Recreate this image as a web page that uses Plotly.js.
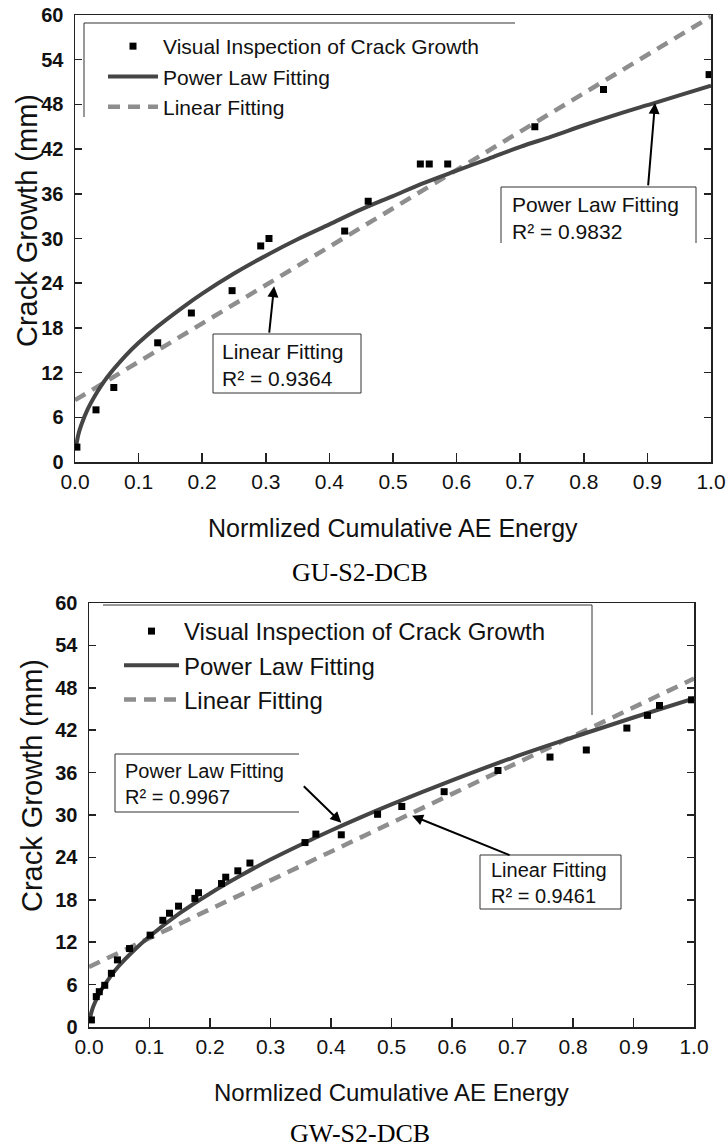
<!DOCTYPE html>
<html><head><meta charset="utf-8">
<script src="https://cdn.plot.ly/plotly-3.0.1.min.js"></script>
<style>html,body{margin:0;padding:0;background:#fff}</style>
</head><body>
<div id="chart" style="width:728px;height:1148px"></div>
<script>
// ---------- DATA ----------
// GU-S2-DCB
const guInspX = [0.003, 0.033, 0.061, 0.130, 0.183, 0.247, 0.292, 0.305, 0.424, 0.461, 0.543, 0.557, 0.586, 0.723, 0.831, 0.997];
const guInspY = [2.0, 7.0, 10.0, 16.0, 20.0, 23.0, 29.0, 30.0, 31.0, 35.0, 40.0, 40.0, 40.0, 45.0, 50.0, 52.0];
const guPowX = [0.001, 0.005, 0.01, 0.02, 0.03, 0.05, 0.08, 0.1, 0.13, 0.17, 0.2, 0.25, 0.3, 0.35, 0.4, 0.45, 0.5, 0.55, 0.6, 0.65, 0.7, 0.75, 0.8, 0.85, 0.9, 0.95, 1.0];
const guPowY = [1.6, 3.6, 5.0, 7.1, 8.7, 11.3, 14.3, 16.0, 18.2, 20.8, 22.6, 25.3, 27.7, 29.9, 31.9, 33.9, 35.7, 37.5, 39.1, 40.7, 42.3, 43.7, 45.2, 46.6, 47.9, 49.2, 50.5];
const guLinX = [0, 1];
const guLinY = [8.3, 59.8];

// GW-S2-DCB
const gwInspX = [0.004, 0.012, 0.017, 0.026, 0.037, 0.047, 0.067, 0.101, 0.122, 0.133, 0.148, 0.175, 0.181, 0.219, 0.226, 0.246, 0.266, 0.357, 0.375, 0.417, 0.477, 0.517, 0.587, 0.676, 0.762, 0.822, 0.889, 0.923, 0.943, 0.996];
const gwInspY = [1.0, 4.3, 5.0, 5.9, 7.6, 9.5, 11.1, 13.0, 15.1, 16.1, 17.1, 18.2, 19.0, 20.3, 21.2, 22.1, 23.2, 26.1, 27.3, 27.2, 30.1, 31.2, 33.3, 36.3, 38.2, 39.2, 42.3, 44.1, 45.5, 46.3];
const gwPowX = [0.001, 0.005, 0.01, 0.02, 0.03, 0.05, 0.075, 0.1, 0.15, 0.2, 0.25, 0.3, 0.35, 0.4, 0.45, 0.5, 0.6, 0.7, 0.8, 0.9, 1.0];
const gwPowY = [1.0, 2.4, 3.5, 5.2, 6.5, 8.7, 10.9, 12.8, 16.1, 18.9, 21.4, 23.7, 25.8, 27.8, 29.7, 31.5, 34.9, 38.1, 41.0, 43.8, 46.5];
const gwLinX = [0, 1];
const gwLinY = [8.5, 49.3];

// text
const seriesNames = ['Visual Inspection of Crack Growth', 'Power Law Fitting', 'Linear Fitting'];
const xTitle = 'Normlized Cumulative AE Energy';
const yTitle = 'Crack Growth (mm)';
const captions = ['GU-S2-DCB', 'GW-S2-DCB'];
const fitLabels = [
  'Power Law Fitting<br>R² = 0.9832', 'Linear Fitting<br>R² = 0.9364',
  'Power Law Fitting<br>R² = 0.9967', 'Linear Fitting<br>R² = 0.9461'
];

// ---------- LAYOUT HELPERS ----------
const W = 728, H = 1148;
const px = v => v / W;
const py = v => 1 - v / H;
const SANS = 'Liberation Sans, Arial, Helvetica, sans-serif';
const SERIF = 'Liberation Serif, Times New Roman, serif';
const POW_COLOR = '#454545';
const LIN_COLOR = '#8e8e8e';

function traces(ix, iy, pxs, pys, lx, ly, xa, ya, leg) {
  return [
    {x: lx, y: ly, xaxis: xa, yaxis: ya, type: 'scatter', mode: 'lines', name: seriesNames[2],
     legend: leg, legendrank: 3, line: {color: LIN_COLOR, width: 4.5, dash: '12px,8px'}},
    {x: pxs, y: pys, xaxis: xa, yaxis: ya, type: 'scatter', mode: 'lines', name: seriesNames[1],
     legend: leg, legendrank: 2, line: {color: POW_COLOR, width: 4, shape: 'spline'}},
    {x: ix, y: iy, xaxis: xa, yaxis: ya, type: 'scatter', mode: 'markers', name: seriesNames[0],
     legend: leg, legendrank: 1, marker: {symbol: 'square', size: 7, color: '#000'}, cliponaxis: true}
  ];
}

const data = [
  ...traces(guInspX, guInspY, guPowX, guPowY, guLinX, guLinY, 'x', 'y', 'legend'),
  ...traces(gwInspX, gwInspY, gwPowX, gwPowY, gwLinX, gwLinY, 'x2', 'y2', 'legend2')
];

function xAxis(domain, anchor) {
  return {
    domain: domain, anchor: anchor, range: [0, 1], dtick: 0.1, tick0: 0, tickformat: '.1f',
    ticks: 'inside', ticklen: 9, tickwidth: 1.5, tickcolor: '#222',
    showline: true, linewidth: 1.5, linecolor: '#222', mirror: true,
    showgrid: false, zeroline: false, fixedrange: true,
    tickfont: {family: SANS, size: 21, color: '#111'}
  };
}
function yAxis(domain, anchor) {
  return {
    domain: domain, anchor: anchor, range: [0, 60], dtick: 6, tick0: 0,
    ticks: 'inside', ticklen: 7, tickwidth: 1.5, tickcolor: '#222',
    showline: true, linewidth: 1.5, linecolor: '#222', mirror: 'ticks',
    showgrid: false, zeroline: false, fixedrange: true, ticklabelstandoff: 6,
    tickfont: {family: SANS, size: 20, color: '#111', weight: 'bold'}
  };
}

function line(x0, y0, x1, y1) {
  return {type: 'line', xref: 'paper', yref: 'paper', x0: px(x0), y0: py(y0), x1: px(x1), y1: py(y1),
          line: {color: '#333', width: 1}};
}
function txt(text, x, y, size, opts) {
  return Object.assign({text: text, xref: 'paper', yref: 'paper', x: px(x), y: py(y), showarrow: false,
    xanchor: 'left', yanchor: 'middle', align: 'left', font: {family: SANS, size: size, color: '#111'}}, opts || {});
}
function arrow(xr, yr, x, y, ax, ay) {
  return {text: '', xref: xr, yref: yr, x: x, y: y, ax: ax, ay: ay, showarrow: true,
          arrowhead: 2, arrowsize: 1.1, arrowwidth: 2, arrowcolor: '#000', standoff: 0};
}

const layout = {
  width: W, height: H, margin: {l: 0, r: 0, t: 0, b: 0},
  paper_bgcolor: '#fff', plot_bgcolor: '#fff', showlegend: true,
  xaxis: xAxis([px(75), px(711)], 'y'),
  yaxis: yAxis([py(462), py(15)], 'x'),
  xaxis2: xAxis([px(89), px(694)], 'y2'),
  yaxis2: yAxis([py(1027), py(603)], 'x2'),
  legend: {x: px(103), y: py(26), xanchor: 'left', yanchor: 'top', bgcolor: 'rgba(0,0,0,0)',
           borderwidth: 0, itemwidth: 50, font: {family: SANS, size: 21, color: '#111'}, tracegroupgap: 0},
  legend2: {x: px(119), y: py(609), xanchor: 'left', yanchor: 'top', bgcolor: 'rgba(0,0,0,0)',
            borderwidth: 0, itemwidth: 55, font: {family: SANS, size: 24, color: '#111'}, tracegroupgap: 0},
  shapes: [
    // top legend partial frame
    line(84, 23, 515, 23), line(84, 23, 84, 117),
    // bottom legend partial frame
    line(103, 605, 592, 605), line(592, 605, 592, 715),
    // top power-law box (open bottom)
    {type: 'path', xref: 'paper', yref: 'paper',
     path: `M${px(501)},${py(243)} L${px(501)},${py(187)} L${px(696)},${py(187)} L${px(696)},${py(243)}`,
     line: {color: '#333', width: 1}},
    // top linear box
    {type: 'rect', xref: 'paper', yref: 'paper', x0: px(213), y0: py(334), x1: px(361), y1: py(393),
     line: {color: '#333', width: 1}, fillcolor: 'rgba(0,0,0,0)'},
    // bottom power-law box (open right)
    {type: 'path', xref: 'paper', yref: 'paper',
     path: `M${px(299)},${py(754)} L${px(115)},${py(754)} L${px(115)},${py(812)} L${px(299)},${py(812)}`,
     line: {color: '#333', width: 1}},
    // bottom linear box
    {type: 'rect', xref: 'paper', yref: 'paper', x0: px(480), y0: py(855), x1: px(621), y1: py(909),
     line: {color: '#333', width: 1}, fillcolor: 'rgba(0,0,0,0)'}
  ],
  annotations: [
    txt(yTitle, 27, 221, 29, {xanchor: 'center', textangle: -90}),
    txt(yTitle, 32, 786, 29, {xanchor: 'center', textangle: -90}),
    txt(xTitle, 393, 528, 25, {xanchor: 'center'}),
    txt(xTitle, 391, 1092, 24, {xanchor: 'center'}),
    txt(captions[0], 360, 572, 26, {xanchor: 'center', font: {family: SERIF, size: 26, color: '#000'}}),
    txt(captions[1], 360, 1133, 26, {xanchor: 'center', font: {family: SERIF, size: 26, color: '#000'}}),
    txt(fitLabels[0], 510, 218, 21),
    txt(fitLabels[1], 220, 365, 21),
    txt(fitLabels[2], 123, 784, 20),
    txt(fitLabels[3], 489, 883, 20),
    arrow('x', 'y', 0.912, 48.2, -7, 84),
    arrow('x', 'y', 0.313, 23.6, -5, 48),
    arrow('x2', 'y2', 0.417, 28.9, -39, -38),
    arrow('x2', 'y2', 0.534, 29.9, 99, 40)
  ]
};

Plotly.newPlot('chart', data, layout, {displayModeBar: false, staticPlot: true});
</script>
</body></html>
